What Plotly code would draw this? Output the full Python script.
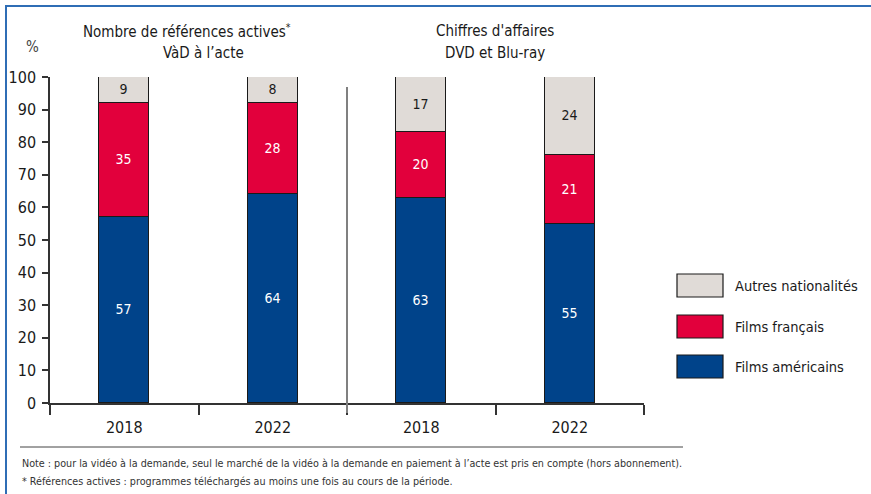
import plotly.graph_objects as go

# ---- data ----
categories = ["2018", "2022", "2018", "2022"]
films_americains = [57, 64, 63, 55]
films_francais = [35, 28, 20, 21]
autres_nationalites = [9, 8, 17, 24]   # labels as printed (rounded)
series_names = ["Films américains", "Films français", "Autres nationalités"]
group_titles = ["Nombre de références actives<sup>*</sup>", "VàD à l’acte",
                "Chiffres d'affaires", "DVD et Blu-ray"]
y_ticks = [0, 10, 20, 30, 40, 50, 60, 70, 80, 90, 100]
note_lines = [
    "Note : pour la vidéo à la demande, seul le marché de la vidéo à la demande en paiement à l’acte est pris en compte (hors abonnement).",
    "* Références actives : programmes téléchargés au moins une fois au cours de la période.",
]

# the printed shares are rounded; the picture's bars all close at 100 %
autres_heights = [100 - a - f for a, f in zip(films_americains, films_francais)]

FONT = "DejaVu Sans Condensed, Liberation Sans Narrow, sans-serif"
BLUE = "#00438a"
RED = "#e2003c"
GREY = "#e0dbd7"
W, H = 871, 494
L, R, T, B = 50, 644, 77, 403  # plot area in pixels


def px(x):
    return (x - L) / (R - L)


def py(y):
    return (B - y) / (B - T)


xs = list(range(len(categories)))
fig = go.Figure()
for vals, labels, name, color, tcol in [
    (films_americains, films_americains, series_names[0], BLUE, "white"),
    (films_francais, films_francais, series_names[1], RED, "white"),
    (autres_heights, autres_nationalites, series_names[2], GREY, "#1a1a1a"),
]:
    fig.add_trace(go.Bar(
        x=xs, y=vals, name=name, width=0.337,
        marker=dict(color=color, line=dict(color="#1a1a1a", width=1.2)),
        text=[str(v) for v in labels], textposition="inside",
        insidetextanchor="middle", constraintext="none",
        textfont=dict(family=FONT, size=14, color=tcol),
        showlegend=False,
    ))

shapes = []
annotations = []
# group separator
shapes.append(dict(type="line", xref="x", yref="paper", x0=1.5, x1=1.5,
                   y0=py(413), y1=py(87), line=dict(color="#808080", width=2)))
# legend
leg = [(series_names[2], GREY, 274), (series_names[1], RED, 315), (series_names[0], BLUE, 355)]
for name, color, top in leg:
    shapes.append(dict(type="rect", xref="paper", yref="paper",
                       x0=px(677), x1=px(723), y0=py(top + 23), y1=py(top),
                       fillcolor=color, line=dict(color="#1a1a1a", width=1.2)))
    annotations.append(dict(xref="paper", yref="paper", x=px(733), y=py(top + 12),
                            text=name, showarrow=False, xanchor="left", yanchor="middle",
                            font=dict(family=FONT, size=14.5, color="#1a1a1a")))
# titles
title_pos = [(187, 31), (203, 53), (495, 31), (495, 53)]
for t, (x, y) in zip(group_titles, title_pos):
    annotations.append(dict(xref="paper", yref="paper", x=px(x), y=py(y), text=t,
                            showarrow=False, xanchor="center", yanchor="middle",
                            font=dict(family=FONT, size=15, color="#1a1a1a")))
annotations.append(dict(xref="paper", yref="paper", x=px(32), y=py(47), text="%",
                        showarrow=False, xanchor="center", yanchor="middle",
                        font=dict(family=FONT, size=15, color="#444444")))
# footer
shapes.append(dict(type="line", xref="paper", yref="paper", x0=px(20), x1=px(683),
                   y0=py(447), y1=py(447), line=dict(color="#444444", width=1)))
for line, y in zip(note_lines, [463, 481]):
    annotations.append(dict(xref="paper", yref="paper", x=px(20), y=py(y), text=line,
                            showarrow=False, xanchor="left", yanchor="middle",
                            font=dict(family=FONT, size=10.7, color="#333333")))
# frame
shapes.append(dict(type="line", xref="paper", yref="paper", x0=px(5), x1=px(871),
                   y0=py(6), y1=py(6), line=dict(color="#2f6db5", width=2)))
shapes.append(dict(type="line", xref="paper", yref="paper", x0=px(6), x1=px(6),
                   y0=py(6), y1=py(494), line=dict(color="#2f6db5", width=2)))

fig.update_layout(
    width=W, height=H, barmode="stack", bargap=0,
    margin=dict(l=L, r=W - R, t=T, b=H - B, pad=0),
    paper_bgcolor="white", plot_bgcolor="white",
    font=dict(family=FONT, color="#1a1a1a"),
    shapes=shapes, annotations=annotations, showlegend=False,
    xaxis=dict(range=[-0.5, 3.5], tickvals=xs, ticktext=categories, ticks="",
               showline=True, linecolor="#333333", linewidth=1.5, showgrid=False,
               zeroline=False, ticklabelstandoff=9, automargin=False,
               tickfont=dict(family=FONT, size=16, color="#1a1a1a"),
               minor=dict(tickvals=[-0.5, 0.5, 1.5, 2.5, 3.5], ticks="outside",
                          ticklen=10, tickcolor="#333333", tickwidth=1.5),
               fixedrange=True),
    yaxis=dict(range=[0, 100], tickvals=y_ticks, ticks="outside", ticklen=6,
               tickcolor="#333333", tickwidth=1.5, showline=True, linecolor="#333333",
               linewidth=1.5, showgrid=False, zeroline=False, ticklabelstandoff=3,
               automargin=False,
               tickfont=dict(family=FONT, size=16, color="#1a1a1a"), fixedrange=True),
)

fig.write_html("out.html", config={"displayModeBar": False})
